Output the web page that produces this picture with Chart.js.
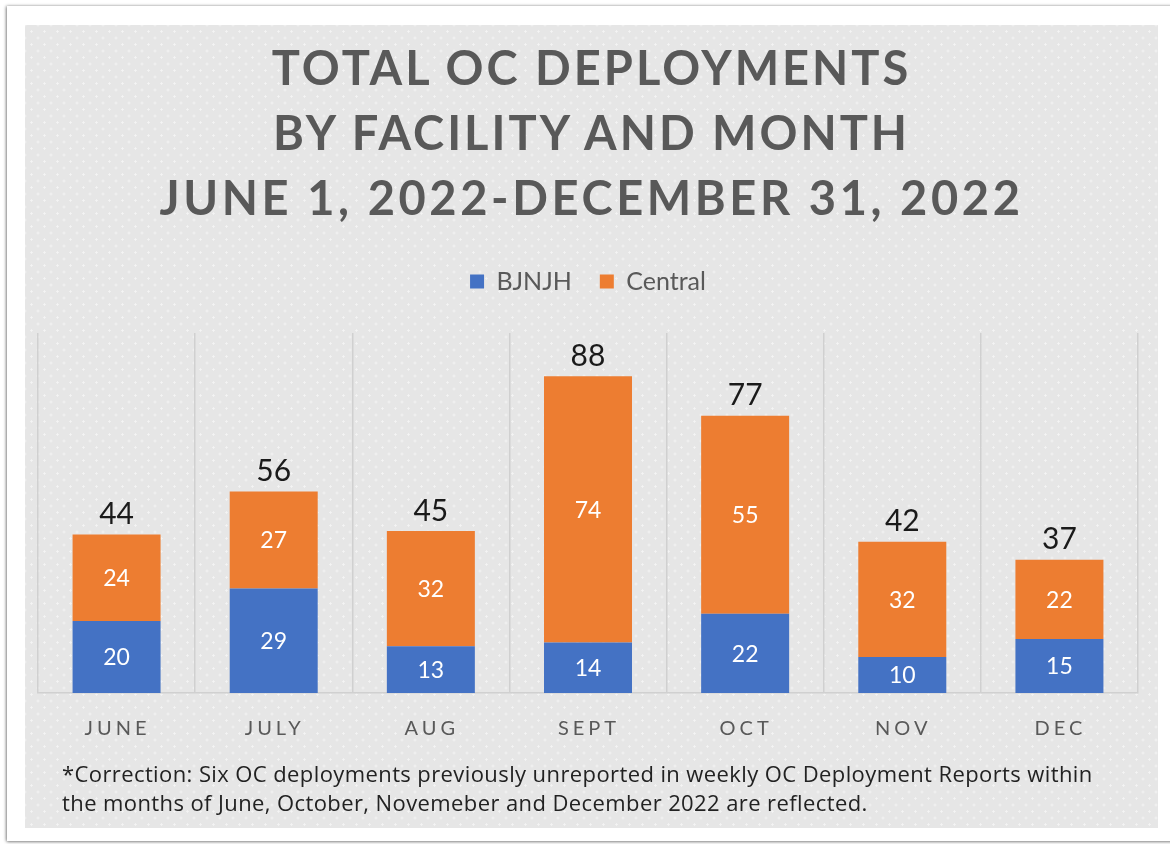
<!DOCTYPE html>
<html>
<head>
<meta charset="utf-8">
<script src="https://cdn.jsdelivr.net/npm/chart.js@4"></script>
<style>
  html, body { margin:0; padding:0; background:#ffffff; width:1170px; height:844px; overflow:hidden; }
  #frame { position:absolute; left:7px; top:6px; width:1175px; height:835px; background:#ffffff;
    box-shadow: -1px 0 3px rgba(0,0,0,0.35), 0 1px 3px rgba(0,0,0,0.35); }
  #panel { position:absolute; left:25px; top:25px; width:1133px; height:803px;
    background-color:#e6e6e6;
    background-image: radial-gradient(circle, #f4f4f4 0.9px, transparent 1.3px),
                      radial-gradient(circle, #f4f4f4 0.9px, transparent 1.3px);
    background-size: 13px 13px, 13px 13px;
    background-position: 0 0, 6.5px 6.5px; }
  #title { position:absolute; left:0; top:10px; width:1133px; text-align:center;
    font-family: Lato, "Open Sans", sans-serif; font-weight:700; font-size:47px; line-height:65px;
    letter-spacing:3px; color:#595959; }
  #title .l3 { letter-spacing:3.6px; }
  #note { position:absolute; left:37px; top:734px; width:1100px; white-space:nowrap;
    font-family: "Open Sans", Lato, sans-serif; font-size:22px; letter-spacing:0.4px; line-height:29px; color:#222222; }
  #wrap { position:absolute; left:0; top:0; width:1133px; height:803px; }
</style>
</head>
<body>
<div id="frame"></div>
<div id="panel">
  <div id="wrap"><canvas id="c"></canvas></div>
  <div id="title">TOTAL OC DEPLOYMENTS<br>BY FACILITY AND MONTH<br><span class="l3">JUNE 1, 2022-DECEMBER 31, 2022</span></div>
  <div id="note">*Correction: Six OC deployments previously unreported in weekly OC Deployment Reports within<br>the months of June, October, Novemeber and December 2022 are reflected.</div>
</div>
<script>
const months = ['JUNE', 'JULY', 'AUG', 'SEPT', 'OCT', 'NOV', 'DEC'];
const bjnjh = [20, 29, 13, 14, 22, 10, 15];
const central = [24, 27, 32, 74, 55, 32, 22];
const totals = [44, 56, 45, 88, 77, 42, 37];
const seriesNames = ['BJNJH', 'Central'];

const FONT = 'Lato, "Open Sans", sans-serif';

const labelPlugin = {
  id: 'labels',
  beforeLayout(chart) {
    const lg = chart.legend;
    if (lg && !lg._patched) {
      const orig = lg.fit;
      lg.fit = function () { orig.call(this); this.height += 29; };
      lg._patched = true;
    }
  },
  afterDatasetsDraw(chart) {
    const ctx = chart.ctx;
    ctx.save();
    ctx.textAlign = 'center';
    ctx.textBaseline = 'middle';
    chart.data.datasets.forEach((ds, di) => {
      const meta = chart.getDatasetMeta(di);
      meta.data.forEach((bar, i) => {
        ctx.fillStyle = '#ffffff';
        ctx.font = '23px ' + FONT;
        ctx.fillText(String(ds.data[i]), bar.x, (bar.y + bar.base) / 2 + 1);
      });
    });
    const topMeta = chart.getDatasetMeta(chart.data.datasets.length - 1);
    topMeta.data.forEach((bar, i) => {
      ctx.fillStyle = '#1a1a1a';
      ctx.font = '30px ' + FONT;
      ctx.fillText(String(totals[i]), bar.x, bar.y - 20);
    });
    // month labels with letter spacing
    const xs = chart.scales.x;
    ctx.fillStyle = '#595959';
    ctx.font = '20px ' + FONT;
    ctx.letterSpacing = '4px';
    months.forEach((m, i) => {
      ctx.fillText(m, xs.getPixelForValue(i) + 1, 704);
    });
    ctx.restore();
  }
};

new Chart(document.getElementById('c'), {
  type: 'bar',
  data: {
    labels: months,
    datasets: [
      { label: seriesNames[0], data: bjnjh, backgroundColor: '#4472C4', barPercentage: 0.56, categoryPercentage: 1 },
      { label: seriesNames[1], data: central, backgroundColor: '#ED7D31', barPercentage: 0.56, categoryPercentage: 1 }
    ]
  },
  options: {
    responsive: true,
    maintainAspectRatio: false,
    animation: false,
    layout: { padding: { left: 13, right: 20, top: 216, bottom: 135 } },
    plugins: {
      tooltip: { enabled: false },
      legend: {
        position: 'top',
        labels: {
          boxWidth: 14, boxHeight: 14, padding: 28,
          color: '#595959',
          font: { family: FONT, size: 25 }
        }
      }
    },
    scales: {
      x: {
        stacked: true,
        grid: { display: true, offset: true, drawTicks: false, color: '#d0d0d0', lineWidth: 1.5 },
        border: { display: true, color: '#d0d0d0', width: 1.5 },
        ticks: { display: false }
      },
      y: {
        stacked: true,
        display: false,
        min: 0,
        max: 100
      }
    }
  },
  plugins: [labelPlugin]
});
</script>
</body>
</html>
